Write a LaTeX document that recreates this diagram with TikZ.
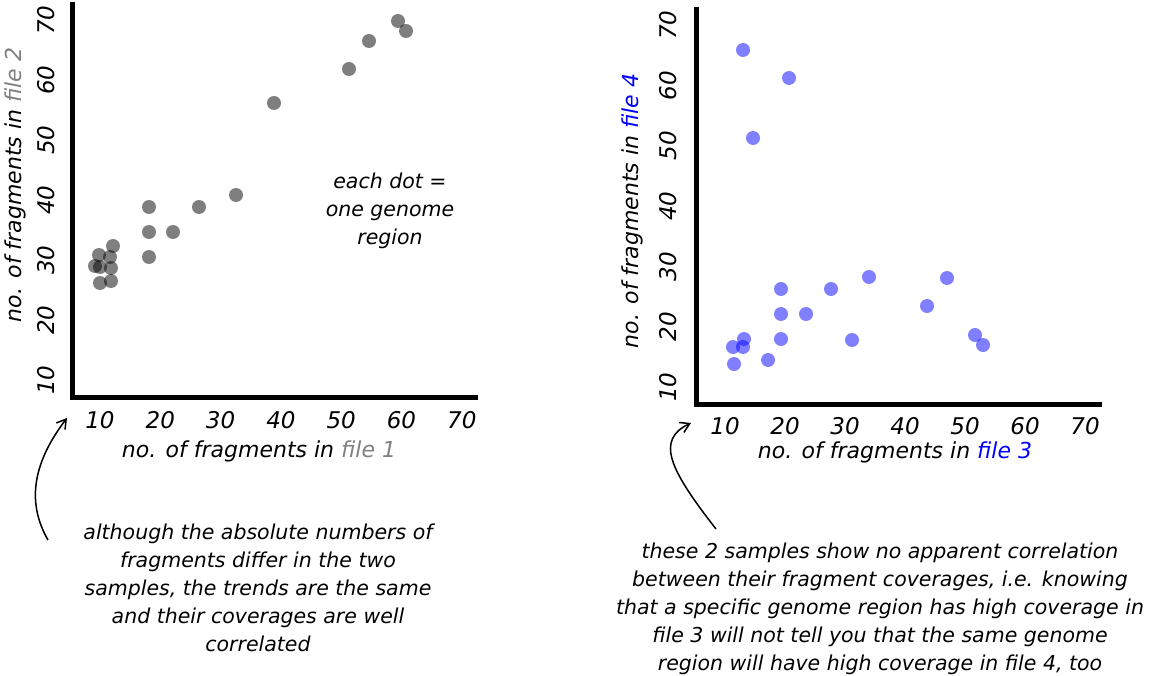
\documentclass[tikz,border=0pt]{standalone}
\usepackage{fontspec}
\setmainfont{DejaVu Sans}
\usetikzlibrary{positioning,arrows.meta}
\tikzset{
  axisline/.style={line width=5pt},
  ticklab/.style={font=\fontsize{23}{23}\selectfont\itshape},
  axislab/.style={font=\fontsize{22}{22}\selectfont\itshape},
  note/.style={font=\fontsize{20.5}{28}\selectfont\itshape, align=center},
  pointer/.style={line width=1.5pt, -{Straight Barb[length=9pt,width=11pt]}},
  greydot/.style={fill=black, opacity=0.5},
  bluedot/.style={fill=blue, opacity=0.5},
}
\begin{document}
\begin{tikzpicture}[x=1pt,y=-1pt]
    \useasboundingbox (0,0) rectangle (1151,676);
    % left plot
    \draw[axisline] (72,2) -- (72,397) -- (478,397);
    \foreach \v in {10,20,...,70} {
      \node[ticklab] (lx\v) at ({100+(\v-10)*6.03},420) {\v};
      \node[ticklab, rotate=90] (ly\v) at (46,{380-(\v-10)*6.0}) {\v};
    }
    \node[axislab] (lxlab) at (259,451) {no. of fragments in \textcolor{gray}{file 1}};
    \node[axislab, rotate=90] (lylab) at (15,185) {no. of fragments in \textcolor{gray}{file 2}};
    \foreach \px/\py in {99/255, 110/257, 113/246, 95/266, 100/267, 111/268, 100/283, 111/281,
        149/207, 149/232, 149/257, 173/232, 199/207, 236/195, 274/103, 349/69, 369/41, 398/21, 406/31} {
      \fill[greydot] (\px,\py) circle (7);
    }
    \node[note] (dotnote) at (390,211) {each dot =\\one genome\\region};
    \node[note] (leftnote) at (258,588) {although the absolute numbers of\\fragments differ in the two\\samples, the trends are the same\\and their coverages are well\\correlated};
    \coordinate (la0) at (48,540);
    \coordinate (la1) at (67,418);
    \draw[pointer] (la0) .. controls (25,500) and (35,460) .. (la1);

    % right plot
    \draw[axisline] (696,7) -- (696,404) -- (1102,404);
    \foreach \v in {10,20,...,70} {
      \node[ticklab] (rx\v) at ({725+(\v-10)*6.0},426) {\v};
      \node[ticklab, rotate=90] (ry\v) at (668,{387-(\v-10)*6.03}) {\v};
    }
    \node[axislab] (rxlab) at (895,452) {no. of fragments in \textcolor{blue}{file 3}};
    \node[axislab, rotate=90] (rylab) at (632,211) {no. of fragments in \textcolor{blue}{file 4}};
    \foreach \px/\py in {743/50, 789/78, 753/138, 781/289, 831/289, 869/277, 947/278, 781/314,
        806/314, 927/306, 781/339, 852/340, 975/335, 983/345, 744/339, 743/347, 733/347, 734/364, 768/360} {
      \fill[bluedot] (\px,\py) circle (7);
    }
    \node[note] (rightnote) at (880,609) {these 2 samples show no apparent correlation\\between their fragment coverages, i.e. knowing\\that a specific genome region has high coverage in\\file 3 will not tell you that the same genome\\region will have high coverage in file 4, too};
    \coordinate (ra0) at (716,529);
    \coordinate (ra1) at (691,423);
    \draw[pointer] (ra0) .. controls (670,470) and (655,440) .. (ra1);
\end{tikzpicture}
\end{document}
